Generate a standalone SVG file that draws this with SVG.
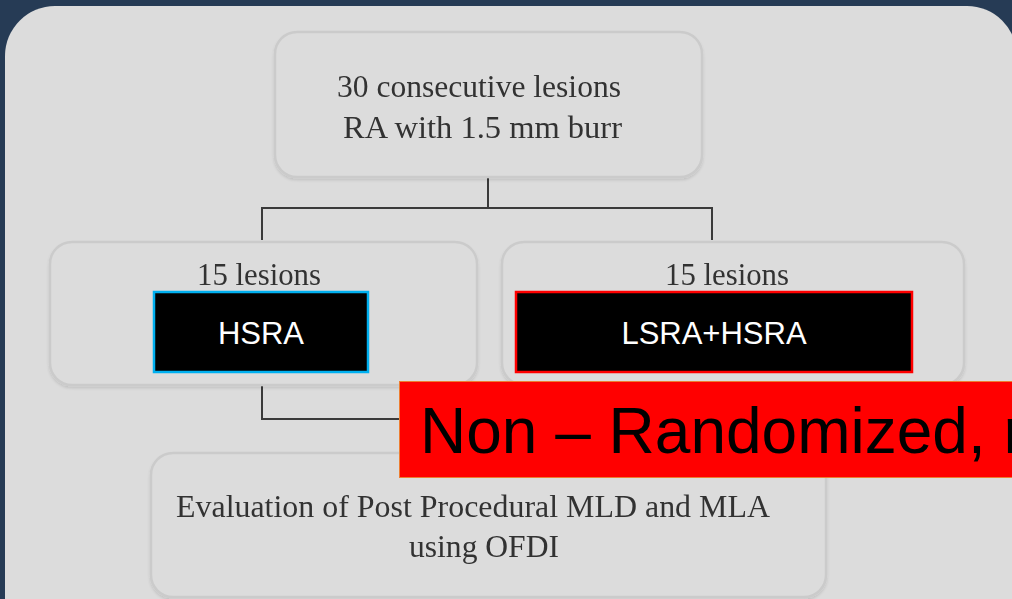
<svg xmlns="http://www.w3.org/2000/svg" width="1012" height="599" viewBox="0 0 1012 599">
<style>
.box{fill:#dcdcdc;stroke:#cbcbcb;stroke-width:2.5}
.serif{font-family:"Liberation Serif","Times New Roman",serif;font-size:31px;fill:#333;text-anchor:middle}
.lbl{font-family:"Liberation Sans",Arial,sans-serif;font-size:31px;fill:#fff;text-anchor:middle}
.conn{fill:none;stroke:#3a3a3a;stroke-width:2}
</style>
<defs>
<filter id="sh" x="-5%" y="-5%" width="110%" height="115%">
<feGaussianBlur in="SourceAlpha" stdDeviation="1.5"/>
<feOffset dy="1.5"/>
<feComponentTransfer><feFuncA type="linear" slope="0.12"/></feComponentTransfer>
<feMerge><feMergeNode/><feMergeNode in="SourceGraphic"/></feMerge>
</filter>
</defs>
<rect x="0" y="0" width="1012" height="599" fill="#263b55"/>
<rect id="panel" x="5" y="6" width="1012" height="650" rx="50" ry="50" fill="#dcdcdc"/>
<g id="connectors">
<path class="conn" d="M488 178V209M262 240V208H712V240"/>
<path class="conn" d="M262 385V419H410"/>
</g>
<g id="top" filter="url(#sh)">
<rect class="box" x="275" y="32" width="427" height="145" rx="22"/>
<text class="serif" x="479" y="97" textLength="284" lengthAdjust="spacingAndGlyphs">30 consecutive lesions</text>
<text class="serif" x="482.5" y="138" textLength="279" lengthAdjust="spacingAndGlyphs">RA with 1.5 mm burr</text>
</g>
<g id="left" filter="url(#sh)">
<rect class="box" x="50" y="242" width="427" height="143" rx="22"/>
<text class="serif" x="259" y="285" textLength="124" lengthAdjust="spacingAndGlyphs">15 lesions</text>
</g>
<g id="right" filter="url(#sh)">
<rect class="box" x="502" y="242" width="462" height="143" rx="22"/>
<text class="serif" x="727" y="285" textLength="124" lengthAdjust="spacingAndGlyphs">15 lesions</text>
</g>
<g id="hsra">
<rect x="154" y="292" width="214" height="80" fill="#000" stroke="#00b0f0" stroke-width="2.5"/>
<text class="lbl" x="261" y="344">HSRA</text>
</g>
<g id="lsra">
<rect x="516" y="292" width="396" height="80" fill="#000" stroke="#ff0000" stroke-width="2.5"/>
<text class="lbl" x="714" y="344">LSRA+HSRA</text>
</g>
<g id="bottom" filter="url(#sh)">
<rect class="box" x="151" y="453" width="675" height="144" rx="22"/>
<text class="serif" x="473" y="517" textLength="594" lengthAdjust="spacingAndGlyphs">Evaluation of Post Procedural MLD and MLA</text>
<text class="serif" x="484" y="557" textLength="150" lengthAdjust="spacingAndGlyphs">using OFDI</text>
</g>
<g id="banner">
<rect x="399.5" y="381.5" width="640" height="96" fill="#ff0000" stroke="#ed7d31" stroke-width="1"/>
<text x="420" y="453" font-family="Liberation Sans, Arial, sans-serif" font-size="64" fill="#000">Non – Randomized, r</text>
</g>
</svg>
